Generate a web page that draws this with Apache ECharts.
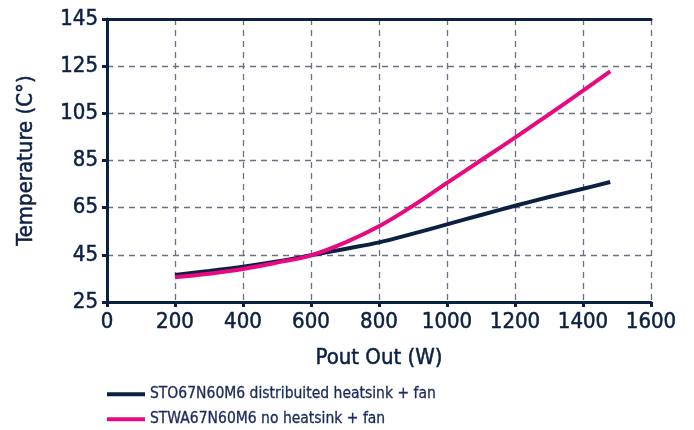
<!DOCTYPE html>
<html>
<head>
<meta charset="utf-8">
<script src="https://cdn.jsdelivr.net/npm/echarts@6/dist/echarts.min.js"></script>
<style>html,body{margin:0;padding:0;background:#fff}#c{width:694px;height:430px}</style>
</head>
<body>
<div id="c"></div>
<script>
var seriesNames = ['STO67N60M6 distribuited heatsink + fan', 'STWA67N60M6 no heatsink + fan'];
var blackX = [200, 300, 400, 500, 600, 700, 800, 900, 1000, 1100, 1200, 1300, 1400, 1480];
var blackY = [36.5, 38.2, 40, 42.2, 44.8, 47.5, 50.3, 54.0, 57.9, 61.9, 65.8, 69.5, 73.0, 75.9];
var pinkX = [200, 300, 400, 500, 600, 700, 800, 900, 1000, 1100, 1200, 1300, 1400, 1480];
var pinkY = [35.5, 37, 39, 41.7, 44.8, 50.2, 57.1, 65.8, 75.5, 85.1, 94.7, 104.6, 114.6, 122.8];
var xTicks = [0, 200, 400, 600, 800, 1000, 1200, 1400, 1600];
var yTicks = [25, 45, 65, 85, 105, 125, 145];

function pairs(xs, ys) { return xs.map(function (x, i) { return [x, ys[i]]; }); }

var navy = '#0c2142';
var pink = '#e8087f';
var font = 'DejaVu Sans Condensed';
var labelStyle = {fontFamily: font, fontSize: 22, color: navy, textBorderColor: navy, textBorderWidth: 0.5};
var legendText = {fontFamily: font, fontSize: 15.5, color: '#1b2a5c', textBorderColor: '#1b2a5c', textBorderWidth: 0.3};
var chart = echarts.init(document.getElementById('c'), null, {renderer: 'canvas'});
chart.setOption({
  animation: false,
  textStyle: {fontFamily: font},
  grid: {left: 107, right: 43, top: 19, bottom: 128, containLabel: false},
  legend: [{
    left: 107, top: 386, padding: 0, itemWidth: 38, itemHeight: 4, icon: 'rect',
    textStyle: legendText, data: [seriesNames[0]]
  }, {
    left: 107, top: 411, padding: 0, itemWidth: 38, itemHeight: 4, icon: 'rect',
    textStyle: legendText, data: [seriesNames[1]]
  }],
  xAxis: [{
    type: 'value', min: 0, max: 1600, interval: 200,
    name: 'Pout Out (W)', nameLocation: 'middle', nameGap: 45,
    nameTextStyle: labelStyle,
    axisLine: {show: true, onZero: false, lineStyle: {color: navy, width: 3}},
    axisTick: {show: true, length: 5, lineStyle: {color: navy, width: 3}},
    axisLabel: Object.assign({margin: 9,
      formatter: function (v) { return xTicks.indexOf(v) >= 0 ? String(v) : ''; }}, labelStyle),
    splitLine: {show: true, lineStyle: {color: '#6b7083', type: [6, 5], width: 1.3}}
  }, {
    type: 'value', position: 'top', min: 0, max: 1600,
    axisLine: {show: true, lineStyle: {color: navy, width: 3}},
    axisTick: {show: false}, axisLabel: {show: false}, splitLine: {show: false}
  }],
  yAxis: {
    type: 'value', min: 25, max: 145, interval: 20,
    name: 'Temperature (C°)', nameLocation: 'middle', nameGap: 70, nameRotate: 90,
    nameTextStyle: labelStyle,
    axisLine: {show: true, onZero: false, lineStyle: {color: navy, width: 3}},
    axisTick: {show: true, length: 5, lineStyle: {color: navy, width: 3}},
    axisLabel: Object.assign({margin: 9,
      formatter: function (v) { return yTicks.indexOf(v) >= 0 ? String(v) : ''; }}, labelStyle),
    splitLine: {show: true, lineStyle: {color: '#6b7083', type: [6, 5], width: 1.3}}
  },
  series: [{
    name: seriesNames[0], type: 'line', smooth: 0.4, showSymbol: false, symbol: 'none',
    data: pairs(blackX, blackY), itemStyle: {color: navy},
    lineStyle: {color: navy, width: 4}, z: 3
  }, {
    name: seriesNames[1], type: 'line', smooth: 0.4, showSymbol: false, symbol: 'none',
    data: pairs(pinkX, pinkY), itemStyle: {color: pink},
    lineStyle: {color: pink, width: 4}, z: 4
  }]
});
</script>
</body>
</html>
